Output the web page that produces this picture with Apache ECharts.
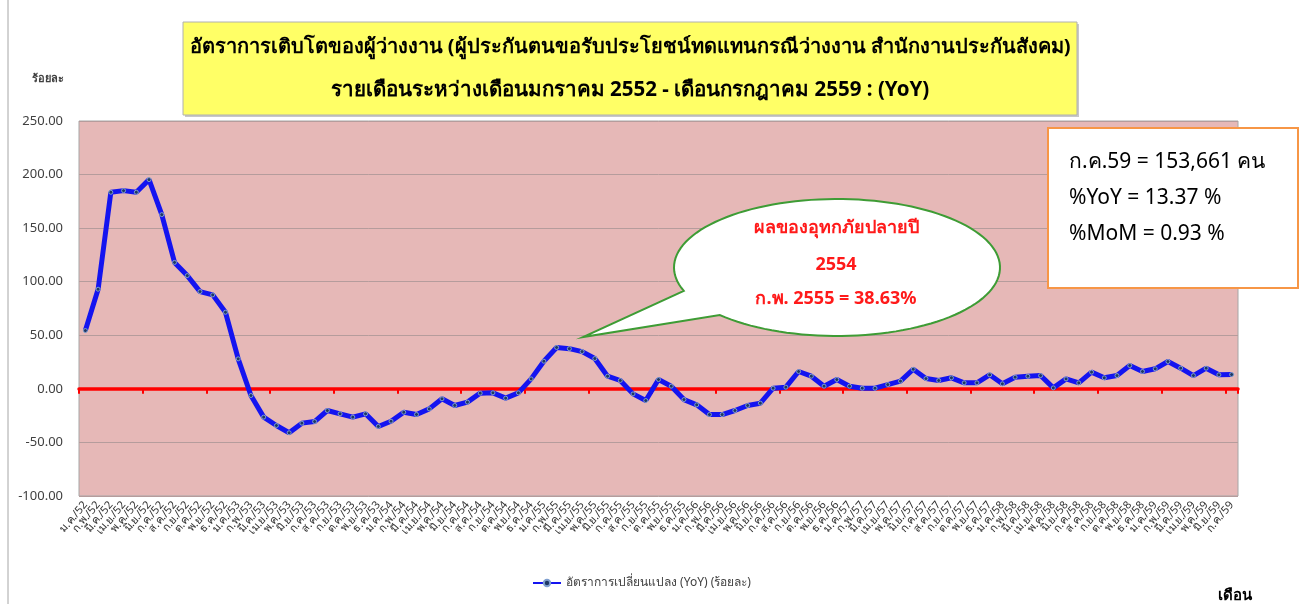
<!DOCTYPE html>
<html>
<head>
<meta charset="utf-8">
<script src="https://cdn.jsdelivr.net/npm/echarts@6/dist/echarts.min.js"></script>
<style>
html,body{margin:0;padding:0;background:#fff;}
#chart{width:1304px;height:604px;}
</style>
</head>
<body>
<div id="chart"></div>
<script>
// ---- data ----
const monthAbbr = ['ม.ค.','ก.พ.','มี.ค.','เม.ย.','พ.ค.','มิ.ย.','ก.ค.','ส.ค.','ก.ย.','ต.ค.','พ.ย.','ธ.ค.'];
const years = ['52','53','54','55','56','57','58','59'];
const lastYearMonths = 7;
const yoyValues = [
  54.4, 93.0, 183.5, 185.0, 183.5, 195.3, 162.6, 118.0, 105.7, 90.8, 87.7, 71.5,
  28.0, -6.2, -26.4, -34.2, -41.0, -32.0, -30.5, -20.2, -23.3, -26.4, -23.3, -35.1,
  -30.2, -21.8, -23.9, -18.7, -9.3, -15.5, -12.4, -4.0, -3.7, -8.7, -3.7, 9.3,
  25.8, 38.63, 37.5, 34.8, 28.3, 11.8, 7.8, -4.7, -10.9, 8.7, 2.5, -10.0,
  -14.9, -24.0, -24.0, -20.2, -15.5, -13.4, 0.6, 1.6, 16.2, 11.8, 2.5, 8.7,
  2.5, 0.6, 0.6, 4.0, 7.2, 18.3, 9.6, 7.8, 10.3, 5.6, 5.6, 13.1,
  4.7, 10.9, 11.8, 12.4, 0.9, 9.3, 5.6, 15.6, 10.3, 12.4, 21.8, 16.2,
  18.7, 25.5, 19.3, 12.4, 19.3, 13.1, 13.37
];
const yTicks = {min: -100, max: 250, interval: 50};
const seriesName = 'อัตราการเปลี่ยนแปลง (YoY) (ร้อยละ)';
const titleLines = [
  'อัตราการเติบโตของผู้ว่างงาน (ผู้ประกันตนขอรับประโยชน์ทดแทนกรณีว่างงาน สำนักงานประกันสังคม)',
  'รายเดือนระหว่างเดือนมกราคม 2552 - เดือนกรกฎาคม 2559 : (YoY)'
];
const infoLines = ['ก.ค.59 = 153,661 คน', '%YoY = 13.37 %', '%MoM = 0.93 %'];
const bubbleLines = ['ผลของอุทกภัยปลายปี', '2554', 'ก.พ. 2555 = 38.63%'];
const yAxisUnit = 'ร้อยละ';
const xAxisUnit = 'เดือน';

const categories = [];
years.forEach((y, yi) => {
  const n = yi === years.length - 1 ? lastYearMonths : 12;
  for (let m = 0; m < n; m++) categories.push(monthAbbr[m] + '/' + y);
});

// ---- chart ----
const FONT = 'Tahoma, "Noto Sans", "DejaVu Sans", sans-serif';
const chart = echarts.init(document.getElementById('chart'));

// bubble polygon
const bcx = 837, bcy = 267.5, brx = 163, bry = 68.5;
const tailA = [685, 290.7], tailB = [720, 315], tailTip = [583, 337];
const tA = Math.atan2((tailA[1]-bcy)/bry, (tailA[0]-bcx)/brx);
let tB = Math.atan2((tailB[1]-bcy)/bry, (tailB[0]-bcx)/brx);
while (tB < tA) tB += Math.PI * 2;
const bubblePts = [];
const N = 120;
for (let k = 0; k <= N; k++) {
  const t = tA + (tB - tA) * k / N;
  bubblePts.push([bcx + brx * Math.cos(t), bcy + bry * Math.sin(t)]);
}
bubblePts.push(tailTip);

const option = {
  animation: false,
  backgroundColor: '#ffffff',
  textStyle: {fontFamily: FONT},
  grid: {
    left: 79, right: 66, top: 121, bottom: 108,
    show: true, backgroundColor: '#E6B8B7', borderColor: '#A6A6A6', borderWidth: 1
  },
  legend: {
    data: [seriesName],
    left: 527, top: 572,
    itemWidth: 28, itemHeight: 8, itemGap: 2,
    textStyle: {fontSize: 12, color: '#404040', fontFamily: FONT}
  },
  xAxis: [
    {
      type: 'category', data: categories, position: 'bottom',
      boundaryGap: true,
      axisLine: {show: false, onZero: false},
      axisTick: {show: false},
      axisLabel: {interval: 0, rotate: 50, fontSize: 11, color: '#333', margin: 7, fontFamily: FONT}
    },
    {
      type: 'category', data: categories, position: 'bottom',
      boundaryGap: true,
      axisLine: {show: true, onZero: true, lineStyle: {color: '#FF0000', width: 3.5}},
      axisTick: {show: true, length: 5, lineStyle: {color: '#FF0000', width: 2}},
      axisLabel: {show: false},
      splitLine: {show: false},
      z: 3
    }
  ],
  yAxis: {
    type: 'value', min: yTicks.min, max: yTicks.max, interval: yTicks.interval,
    axisLine: {show: false}, axisTick: {show: false},
    splitLine: {lineStyle: {color: '#B59C9C', width: 1}},
    axisLabel: {formatter: v => v.toFixed(2), fontSize: 13, color: '#404040', margin: 16, fontFamily: FONT}
  },
  series: [{
    name: seriesName,
    type: 'line',
    data: yoyValues,
    xAxisIndex: 0,
    symbol: 'circle', symbolSize: 4,
    lineStyle: {color: '#1414F0', width: 5},
    itemStyle: {color: '#1F3864', borderColor: '#7F9FCF', borderWidth: 1},
    z: 5
  }],
  graphic: [
    {type: 'line', shape: {x1: 8, y1: 0, x2: 8, y2: 604}, style: {stroke: '#A6A6A6', lineWidth: 1}},
    {type: 'rect', shape: {x: 185, y: 24, width: 894, height: 93}, style: {fill: '#C8C8C8'}},
    {type: 'rect', shape: {x: 183, y: 22, width: 894, height: 93}, style: {fill: '#FFFF66', stroke: '#B0B0B0', lineWidth: 1}},
    {type: 'text', x: 630, y: 47, style: {text: titleLines[0], fill: '#000', font: 'bold 20px ' + FONT, align: 'center', verticalAlign: 'middle'}},
    {type: 'text', x: 630, y: 90, style: {text: titleLines[1], fill: '#000', font: 'bold 20.5px ' + FONT, align: 'center', verticalAlign: 'middle'}},
    {type: 'text', x: 48, y: 79, style: {text: yAxisUnit, fill: '#404040', font: 'bold 11px ' + FONT, align: 'center', verticalAlign: 'middle'}},
    {type: 'text', x: 1235, y: 596, style: {text: xAxisUnit, fill: '#000', font: 'bold 15px ' + FONT, align: 'center', verticalAlign: 'middle'}},
    {type: 'rect', z: 10, shape: {x: 1048, y: 128, width: 250, height: 160}, style: {fill: '#fff', stroke: '#F79646', lineWidth: 2}},
    {type: 'text', z: 11, x: 1069, y: 162, style: {text: infoLines[0], fill: '#000', font: '21px ' + FONT, align: 'left', verticalAlign: 'middle'}},
    {type: 'text', z: 11, x: 1069, y: 198, style: {text: infoLines[1], fill: '#000', font: '21px ' + FONT, align: 'left', verticalAlign: 'middle'}},
    {type: 'text', z: 11, x: 1069, y: 234, style: {text: infoLines[2], fill: '#000', font: '21px ' + FONT, align: 'left', verticalAlign: 'middle'}},
    {type: 'polygon', z: 10, shape: {points: bubblePts}, style: {fill: '#fff', stroke: '#3E9C35', lineWidth: 2}},
    {type: 'text', z: 11, x: 836, y: 228, style: {text: bubbleLines[0], fill: '#FF1A1A', font: 'bold 18px ' + FONT, align: 'center', verticalAlign: 'middle'}},
    {type: 'text', z: 11, x: 836, y: 265, style: {text: bubbleLines[1], fill: '#FF1A1A', font: 'bold 18px ' + FONT, align: 'center', verticalAlign: 'middle'}},
    {type: 'text', z: 11, x: 836, y: 299, style: {text: bubbleLines[2], fill: '#FF1A1A', font: 'bold 18px ' + FONT, align: 'center', verticalAlign: 'middle'}}
  ]
};
chart.setOption(option);
</script>
</body>
</html>
